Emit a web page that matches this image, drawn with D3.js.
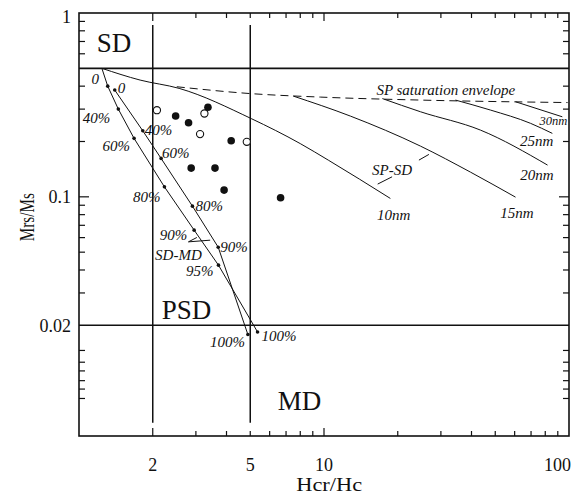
<!DOCTYPE html>
<html><head><meta charset="utf-8">
<script src="https://cdn.jsdelivr.net/npm/d3@7"></script>
<style>body{margin:0;background:#fff}</style>
</head><body>
<svg id="c" width="586" height="496"></svg>
<script>
// ---------- data ----------
const xTickLabels = [2, 5, 10, 100];
const yTickLabels = [1, 0.1, 0.02];
const xMinorTicks = [3,4,5,6,7,8,9,20,30,40,50,60,70,80,90];
const xMajorTicks = [2, 10];
const yMinorTicks = [0.9,0.8,0.7,0.6,0.4,0.3,0.2,0.09,0.08,0.07,0.06,0.05,0.04,0.03,0.0146,0.0126,0.0113,0.01,0.009,0.008];
const yMajorTicks = [0.1];

// domain boundaries (Day plot)
const hLines = [0.5, 0.02];          // Mrs/Ms boundaries
const vLines = [2, 5];               // Hcr/Hc boundaries
const vLineSpan = [0.86, 0.0059];

// samples
const filledX = [3.36, 2.48, 2.80, 4.18, 2.87, 3.59, 3.91, 6.65];
const filledY = [0.307, 0.275, 0.253, 0.2018, 0.1433, 0.1433, 0.1088, 0.0988];
const openX = [2.08, 3.25, 3.12, 4.84];
const openY = [0.296, 0.284, 0.2194, 0.1992];

// SD-MD mixing curves
const mix1X = [1.24, 1.31, 1.447, 1.678, 2.232, 2.951, 3.709, 5.355];
const mix1Y = [0.5, 0.40, 0.300, 0.208, 0.1133, 0.0659, 0.0425, 0.0184];
const mix1Labels = ["0", "", "40%", "60%", "80%", "90%", "95%", "100%"];
const mix2X = [1.399, 1.821, 2.163, 2.904, 3.70, 4.89];
const mix2Y = [0.381, 0.2287, 0.1618, 0.089, 0.0532, 0.01782];
const mix2Labels = ["0", "40%", "60%", "80%", "90%", "100%"];

// SP-SD mixing curves
const sp10X = [1.24, 1.776, 2.563, 5.045, 8.0, 10.41, 18.66];
const sp10Y = [0.5, 0.4317, 0.389, 0.2665, 0.1948, 0.1584, 0.098];
const sp15X = [7.49, 12.81, 24.75, 39.6, 60.5];
const sp15Y = [0.3533, 0.275, 0.1888, 0.1363, 0.0996];
const sp20X = [17.31, 24.75, 43.5, 81.75];
const sp20Y = [0.3424, 0.2903, 0.2307, 0.1488];
const sp25X = [34.4, 47.8, 69.7, 85.5];
const sp25Y = [0.336, 0.2965, 0.251, 0.2214];
const sp30X = [60.5, 93.9];
const sp30Y = [0.329, 0.2725];
const spLabels = ["10nm", "15nm", "20nm", "25nm", "30nm"];

// SP saturation envelope
const envX = [2.507, 5.0, 9.66, 24.75, 98.7];
const envY = [0.397, 0.3645, 0.3488, 0.336, 0.3257];

// ---------- layout ----------
const L = 79, R = 569, T = 13, B = 436;
const x = d3.scaleLog().domain([1, 100]).range([L, R]);
const y = d3.scaleLog().domain([0.005, 1]).range([B, T]);
const svg = d3.select("#c");
const serif = "'Liberation Serif','Times New Roman',serif";
const ink = "#111";

const line = d3.line().x(d => x(d[0])).y(d => y(d[1]));
const zip = (a, b) => a.map((v, i) => [v, b[i]]);

// ticks (inward, all four sides)
const g = svg.append("g").attr("stroke", ink).attr("stroke-width", 1.2);
function xt(vals, len) {
  vals.forEach(v => {
    g.append("line").attr("x1", x(v)).attr("x2", x(v)).attr("y1", B).attr("y2", B - len);
    g.append("line").attr("x1", x(v)).attr("x2", x(v)).attr("y1", T).attr("y2", T + len);
  });
}
function yt(vals, len) {
  vals.forEach(v => {
    g.append("line").attr("y1", y(v)).attr("y2", y(v)).attr("x1", L).attr("x2", L + len);
    g.append("line").attr("y1", y(v)).attr("y2", y(v)).attr("x1", R).attr("x2", R - len);
  });
}
xt(xMinorTicks, 5); xt(xMajorTicks, 8);
yt(yMinorTicks, 6); yt(yMajorTicks, 10);

// frame
svg.append("rect").attr("x", L).attr("y", T).attr("width", R - L).attr("height", B - T)
  .attr("fill", "none").attr("stroke", ink).attr("stroke-width", 1.6);

// boundaries
hLines.forEach(v => svg.append("line").attr("x1", L).attr("x2", R).attr("y1", y(v)).attr("y2", y(v))
  .attr("stroke", ink).attr("stroke-width", 1.6));
vLines.forEach(v => svg.append("line").attr("x1", x(v)).attr("x2", x(v)).attr("y1", y(vLineSpan[0])).attr("y2", y(vLineSpan[1]))
  .attr("stroke", ink).attr("stroke-width", 1.5));

// tick labels
svg.append("g").selectAll("text").data(xTickLabels).join("text")
  .attr("x", d => d === 100 ? x(d) + 2 : x(d)).attr("y", 471)
  .attr("text-anchor", d => d === 100 ? "end" : "middle")
  .attr("font-family", serif).attr("font-size", 18).attr("fill", ink).text(d => d);
svg.append("g").selectAll("text").data(yTickLabels).join("text")
  .attr("x", 71).attr("y", d => Math.max(y(d), 17)).attr("dy", "0.35em").attr("text-anchor", "end")
  .attr("font-family", serif).attr("font-size", 18).attr("fill", ink).text(d => d);

// axis titles
svg.append("text").attr("x", x(10.5)).attr("y", 491).attr("text-anchor", "middle")
  .attr("textLength", 66).attr("lengthAdjust", "spacingAndGlyphs")
  .attr("font-family", serif).attr("font-size", 18).attr("fill", ink).text("Hcr/Hc");
svg.append("text").attr("transform", `translate(34,${y(0.0775)}) rotate(-90)`).attr("text-anchor", "middle")
  .attr("textLength", 48).attr("lengthAdjust", "spacingAndGlyphs")
  .attr("font-family", serif).attr("font-size", 20).attr("fill", ink).text("Mrs/Ms");

// region labels
const regions = [["SD", 1.181, 0.6157], ["PSD", 2.178, 0.02178], ["MD", 6.475, 0.0069]];
svg.append("g").selectAll("text").data(regions).join("text")
  .attr("x", d => x(d[1])).attr("y", d => y(d[2]))
  .attr("font-family", serif).attr("font-size", 27).attr("fill", ink).text(d => d[0]);

// SP curves
const spCurves = [zip(sp10X, sp10Y), zip(sp15X, sp15Y), zip(sp20X, sp20Y), zip(sp25X, sp25Y), zip(sp30X, sp30Y)];
spCurves.forEach(c => svg.append("path").attr("d", line.curve(d3.curveMonotoneX)(c))
  .attr("fill", "none").attr("stroke", ink).attr("stroke-width", 1));
const spLabelOff = [[20, 22], [18, 21], [6, 15], [1, 13], [5, 8]];
const spLabelSize = [15, 15, 15, 15, 12.5];
spCurves.forEach((c, i) => {
  const e = c[c.length - 1];
  svg.append("text").attr("x", x(e[0]) + spLabelOff[i][0]).attr("y", y(e[1]) + spLabelOff[i][1])
    .attr("text-anchor", "end").attr("font-family", serif).attr("font-style", "italic")
    .attr("font-size", spLabelSize[i]).attr("fill", ink).text(spLabels[i]);
});

// envelope
svg.append("path").attr("d", line.curve(d3.curveMonotoneX)(zip(envX, envY)))
  .attr("fill", "none").attr("stroke", ink).attr("stroke-width", 1).attr("stroke-dasharray", "8,5");

// mixing curves
const m1 = zip(mix1X, mix1Y), m2 = zip(mix2X, mix2Y);
[m1, m2].forEach(c => svg.append("path").attr("d", line.curve(d3.curveLinear)(c))
  .attr("fill", "none").attr("stroke", ink).attr("stroke-width", 1));
svg.append("g").selectAll("circle").data(m1.slice(1).concat(m2)).join("circle")
  .attr("cx", d => x(d[0])).attr("cy", d => y(d[1])).attr("r", 1.8).attr("fill", ink);

const m1Off = [[-3, 16], [0, 0], [-8, 14], [-4, 13], [-4, 15], [-7, 10], [-5, 11], [4, 9]];
const m1Anchor = ["end", "end", "end", "end", "end", "end", "end", "start"];
const m2Off = [[3, 3], [2, 4], [1, 0], [3, 5], [2, 5], [-3, 12]];
const m2Anchor = ["start", "start", "start", "start", "start", "end"];
function mixLabels(c, labs, off, anc) {
  c.forEach((p, i) => {
    if (!labs[i]) return;
    svg.append("text").attr("x", x(p[0]) + off[i][0]).attr("y", y(p[1]) + off[i][1])
      .attr("text-anchor", anc[i]).attr("font-family", serif).attr("font-style", "italic")
      .attr("font-size", 15).attr("fill", ink).text(labs[i]);
  });
}
mixLabels(m1, mix1Labels, m1Off, m1Anchor);
mixLabels(m2, mix2Labels, m2Off, m2Anchor);

// annotations
const notes = [["SP saturation envelope", 16.36, 0.3578], ["SP-SD", 15.71, 0.1313], ["SD-MD", 2.045, 0.0452]];
svg.append("g").selectAll("text").data(notes).join("text")
  .attr("x", d => x(d[1])).attr("y", d => y(d[2]))
  .attr("font-family", serif).attr("font-style", "italic").attr("font-size", 15).attr("fill", ink).text(d => d[0]);
const pointers = [
  [[24.4, 0.1584], [26.8, 0.1701]],
  [[16.56, 0.1173], [18.96, 0.1285]],
  [[3.027, 0.0601], [2.797, 0.0569], [3.43, 0.0581]]
];
pointers.forEach(p => svg.append("path").attr("d", line.curve(d3.curveLinear)(p))
  .attr("fill", "none").attr("stroke", ink).attr("stroke-width", 1));

// samples
svg.append("g").selectAll("circle").data(zip(filledX, filledY)).join("circle")
  .attr("cx", d => x(d[0])).attr("cy", d => y(d[1])).attr("r", 3.8).attr("fill", ink);
svg.append("g").selectAll("circle").data(zip(openX, openY)).join("circle")
  .attr("cx", d => x(d[0])).attr("cy", d => y(d[1])).attr("r", 3.6).attr("fill", "#fff")
  .attr("stroke", ink).attr("stroke-width", 1.1);
</script>
</body></html>
